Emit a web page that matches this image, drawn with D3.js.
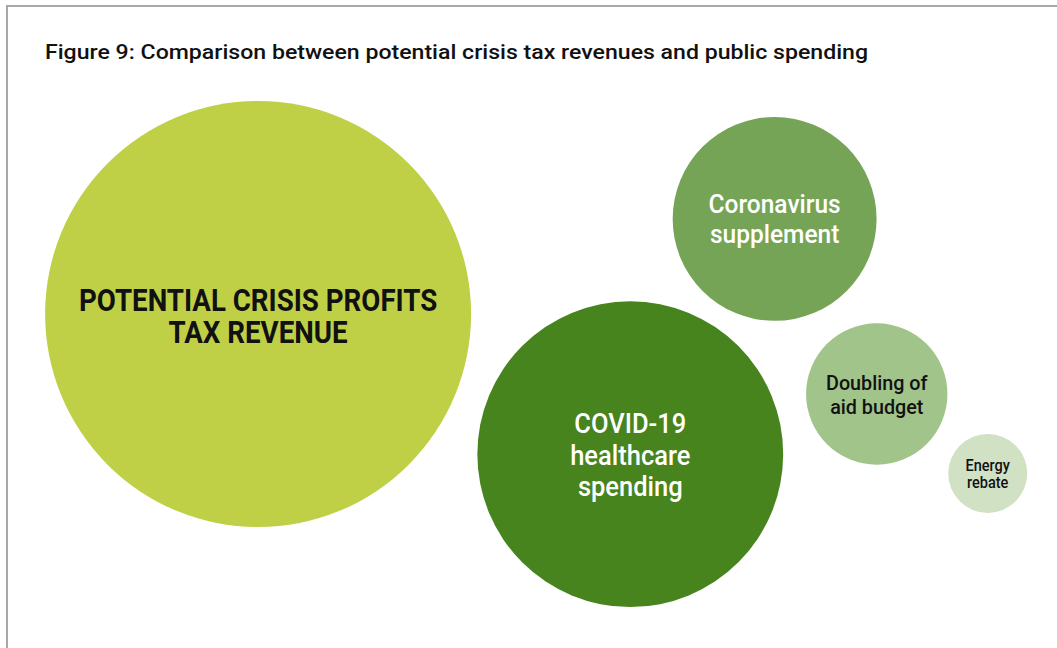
<!DOCTYPE html>
<html>
<head>
<meta charset="utf-8">
<script src="https://cdn.jsdelivr.net/npm/d3@7"></script>
<style>
  html, body { margin: 0; padding: 0; background: #ffffff; }
  svg { display: block; }
  text { font-family: Roboto, "DejaVu Sans", sans-serif; }
</style>
</head>
<body>
<script>
// Bubble categories (labels split into lines)
const labels = [
  ["POTENTIAL CRISIS PROFITS", "TAX REVENUE"],
  ["COVID-19", "healthcare", "spending"],
  ["Coronavirus", "supplement"],
  ["Doubling of", "aid budget"],
  ["Energy", "rebate"]
];
// Relative amounts (bubble area is proportional to the amount)
const amounts = [45.4, 23.4, 10.4, 5.0, 1.56];
// Bubble placement in layout units (0–100 on each axis)
const layoutX = [21.7, 59.6, 74.3, 84.7, 96.0];
const layoutY = [42.1, 69.8, 23.3, 57.9, 73.6];
const fills = ["#bfd047", "#47841e", "#75a456", "#a1c48b", "#d0e1c4"];
const textColors = ["#111111", "#ffffff", "#ffffff", "#111111", "#111111"];

const title = "Figure 9: Comparison between potential crisis tax revenues and public spending";

// label typography per bubble: size, weight, horizontal condensing, baseline offsets from centre
const labelStyle = [
  { size: 32, weight: 700, squeeze: 0.865, dy: [-3, 29] },
  { size: 28, weight: 500, squeeze: 0.91, dy: [-21, 11, 42] },
  { size: 25, weight: 500, squeeze: 0.98, dy: [-6, 24] },
  { size: 21, weight: 500, squeeze: 0.94, dy: [-4, 20] },
  { size: 16.5, weight: 500, squeeze: 0.88, dy: [-2.5, 14.5] }
];

const W = 1057, H = 648;
const svg = d3.select("body").append("svg").attr("width", W).attr("height", H);

// frame: top and left rules
svg.append("line").attr("x1", 6).attr("x2", W).attr("y1", 6).attr("y2", 6)
  .attr("stroke", "#a8a8a8").attr("stroke-width", 2);
svg.append("line").attr("x1", 7).attr("x2", 7).attr("y1", 5).attr("y2", H)
  .attr("stroke", "#a8a8a8").attr("stroke-width", 2);

svg.append("text")
  .attr("x", 45).attr("y", 59)
  .attr("font-size", 21).attr("font-weight", 500).attr("fill", "#111")
  .attr("textLength", 823).attr("lengthAdjust", "spacingAndGlyphs")
  .text(title);

const x = d3.scaleLinear().domain([0, 100]).range([45, 1027]);
const y = d3.scaleLinear().domain([0, 100]).range([101, 607]);
const r = d3.scaleSqrt().domain([0, d3.max(amounts)]).range([0, 213]);

const data = amounts.map((v, i) => ({
  value: v, lines: labels[i], cx: x(layoutX[i]), cy: y(layoutY[i]),
  fill: fills[i], color: textColors[i], style: labelStyle[i]
}));

const g = svg.selectAll("g.bubble").data(data).join("g").attr("class", "bubble");

g.append("circle")
  .attr("cx", d => d.cx).attr("cy", d => d.cy)
  .attr("r", d => r(d.value))
  .attr("fill", d => d.fill);

g.each(function(d) {
  const s = d.style;
  d.lines.forEach((line, k) => {
    const t = d3.select(this).append("text")
      .attr("text-anchor", "middle")
      .attr("x", d.cx)
      .attr("y", d.cy + s.dy[k])
      .attr("fill", d.color)
      .attr("font-size", s.size)
      .attr("font-weight", s.weight)
      .text(line);
    // condense the line horizontally to a narrower face
    const w = t.node().getComputedTextLength();
    t.attr("textLength", w * s.squeeze).attr("lengthAdjust", "spacingAndGlyphs");
  });
});
</script>
</body>
</html>
